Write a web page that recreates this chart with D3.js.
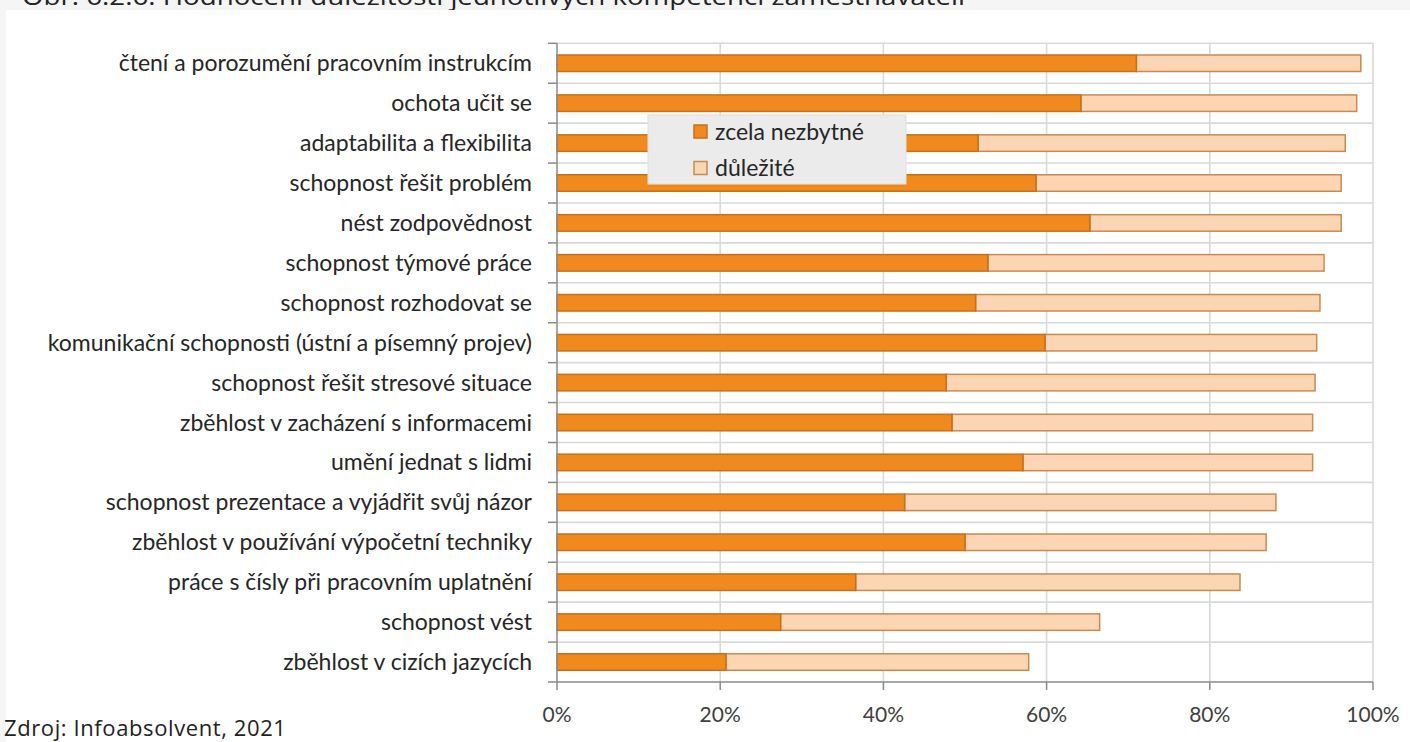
<!DOCTYPE html>
<html lang="cs">
<head>
<meta charset="utf-8">
<script src="https://cdn.jsdelivr.net/npm/d3@7"></script>
<style>
  html, body { margin: 0; padding: 0; background: #f5f5f5; }
  svg { display: block; }
  .cat { font-family: Lato, "Open Sans", sans-serif; font-size: 23px; fill: #262626; }
  .tick-label { font-family: Lato, "Open Sans", sans-serif; font-size: 21px; fill: #404040; }
  .note { font-family: "Open Sans", "Noto Sans", sans-serif; fill: #222; }
</style>
</head>
<body>
<svg id="chart" width="1410" height="742"></svg>
<script>
// Kompetence (shora dolů)
const categories = [
  "čtení a porozumění pracovním instrukcím",
  "ochota učit se",
  "adaptabilita a flexibilita",
  "schopnost řešit problém",
  "nést zodpovědnost",
  "schopnost týmové práce",
  "schopnost rozhodovat se",
  "komunikační schopnosti (ústní a písemný projev)",
  "schopnost řešit stresové situace",
  "zběhlost v zacházení s informacemi",
  "umění jednat s lidmi",
  "schopnost prezentace a vyjádřit svůj názor",
  "zběhlost v používání výpočetní techniky",
  "práce s čísly při pracovním uplatnění",
  "schopnost vést",
  "zběhlost v cizích jazycích"
];

// Podíl zaměstnavatelů (%)
const zcelaNezbytne = [71.0, 64.2, 51.6, 58.7, 65.3, 52.8, 51.3, 59.8, 47.7, 48.4, 57.1, 42.6, 50.0, 36.6, 27.4, 20.7];
const dulezite      = [27.5, 33.8, 45.0, 37.4, 30.8, 41.2, 42.2, 33.3, 45.2, 44.2, 35.5, 45.5, 36.9, 47.1, 39.1, 37.1];

const seriesNames = ["zcela nezbytné", "důležité"];
const xTicks = [0, 20, 40, 60, 80, 100];

const colors = {
  dark: "#f18a1e", darkStroke: "#c4701c",
  light: "#fcd5b5", lightStroke: "#c98a50",
  grid: "#d9d9d9", axis: "#8a8a8a"
};

const svg = d3.select("#chart");

// Titulek (horní okraj stránky)
svg.append("text")
  .attr("class", "note")
  .attr("x", 22).attr("y", 5)
  .attr("font-size", 23)
  .attr("textLength", 943)
  .attr("lengthAdjust", "spacingAndGlyphs")
  .text("Obr. 6.2.6: Hodnocení důležitosti jednotlivých kompetencí zaměstnavateli");

// Bílý panel grafu
svg.append("rect")
  .attr("x", 6).attr("y", 10).attr("width", 1404).attr("height", 732)
  .attr("fill", "#ffffff");

const plot = { left: 557, right: 1373, top: 43.3, bottom: 682 };

const x = d3.scaleLinear().domain([0, 100]).range([plot.left, plot.right]);
const y = d3.scaleBand().domain(categories).range([plot.top, plot.bottom]).padding(0);
const barH = 16.5;

const g = svg.append("g");

// Mřížka – svislé čáry
g.append("g").selectAll("line").data(xTicks.filter(t => t > 0)).join("line")
  .attr("x1", d => x(d)).attr("x2", d => x(d))
  .attr("y1", plot.top).attr("y2", plot.bottom)
  .attr("stroke", colors.grid).attr("stroke-width", 1.6);

// Mřížka – vodorovné čáry mezi kategoriemi
const bounds = categories.map(c => y(c));
g.append("g").selectAll("line").data(bounds).join("line")
  .attr("x1", plot.left).attr("x2", plot.right)
  .attr("y1", d => d).attr("y2", d => d)
  .attr("stroke", colors.grid).attr("stroke-width", 1.6);

// Skládané pruhy
const rows = categories.map((c, i) => ({ c, a: zcelaNezbytne[i], b: dulezite[i] }));
const bars = g.append("g");
bars.selectAll("rect.light").data(rows).join("rect")
  .attr("class", "light")
  .attr("x", d => x(d.a))
  .attr("width", d => x(d.a + d.b) - x(d.a))
  .attr("y", d => y(d.c) + y.bandwidth() / 2 - barH / 2)
  .attr("height", barH)
  .attr("fill", colors.light)
  .attr("stroke", colors.lightStroke).attr("stroke-width", 1.5);
bars.selectAll("rect.dark").data(rows).join("rect")
  .attr("class", "dark")
  .attr("x", x(0))
  .attr("width", d => x(d.a) - x(0))
  .attr("y", d => y(d.c) + y.bandwidth() / 2 - barH / 2)
  .attr("height", barH)
  .attr("fill", colors.dark)
  .attr("stroke", colors.darkStroke).attr("stroke-width", 1.5);

// Osa Y
const yAxis = g.append("g");
yAxis.append("line")
  .attr("x1", plot.left).attr("x2", plot.left)
  .attr("y1", plot.top).attr("y2", plot.bottom)
  .attr("stroke", colors.axis).attr("stroke-width", 1.5);
yAxis.selectAll("line.tk").data(bounds.concat([plot.bottom])).join("line")
  .attr("class", "tk")
  .attr("x1", plot.left - 9).attr("x2", plot.left)
  .attr("y1", d => d).attr("y2", d => d)
  .attr("stroke", colors.axis).attr("stroke-width", 1.5);
yAxis.selectAll("text").data(categories).join("text")
  .attr("class", "cat")
  .attr("x", 532)
  .attr("y", d => y(d) + y.bandwidth() / 2)
  .attr("dy", "0.35em")
  .attr("text-anchor", "end")
  .text(d => d);

// Osa X
const xAxis = g.append("g");
xAxis.append("line")
  .attr("x1", plot.left).attr("x2", plot.right)
  .attr("y1", plot.bottom).attr("y2", plot.bottom)
  .attr("stroke", colors.axis).attr("stroke-width", 1.5);
xAxis.selectAll("line.tk").data(xTicks).join("line")
  .attr("class", "tk")
  .attr("x1", d => x(d)).attr("x2", d => x(d))
  .attr("y1", plot.bottom).attr("y2", plot.bottom + 8)
  .attr("stroke", colors.axis).attr("stroke-width", 1.5);
xAxis.selectAll("text").data(xTicks).join("text")
  .attr("class", "tick-label")
  .attr("x", d => x(d))
  .attr("y", 715)
  .attr("dy", "0.35em")
  .attr("text-anchor", "middle")
  .text(d => d + "%");

// Legenda
const legend = svg.append("g");
legend.append("rect")
  .attr("x", 648).attr("y", 115).attr("width", 258).attr("height", 69)
  .attr("fill", "#ebebeb").attr("stroke", "#e0e0e0");
const legendItems = [
  { name: seriesNames[0], fill: colors.dark, stroke: colors.darkStroke, cy: 131.5 },
  { name: seriesNames[1], fill: colors.light, stroke: colors.lightStroke, cy: 168 }
];
legend.selectAll("rect.sw").data(legendItems).join("rect")
  .attr("class", "sw")
  .attr("x", 694).attr("y", d => d.cy - 6.5)
  .attr("width", 13).attr("height", 13)
  .attr("fill", d => d.fill).attr("stroke", d => d.stroke).attr("stroke-width", 1.5);
legend.selectAll("text").data(legendItems).join("text")
  .attr("class", "cat")
  .attr("x", 715).attr("y", d => d.cy)
  .attr("dy", "0.35em")
  .text(d => d.name);

// Zdroj
svg.append("text")
  .attr("class", "note")
  .attr("x", 4).attr("y", 736)
  .attr("font-size", 22)
  .attr("letter-spacing", 0.6)
  .text("Zdroj: Infoabsolvent, 2021");
</script>
</body>
</html>
